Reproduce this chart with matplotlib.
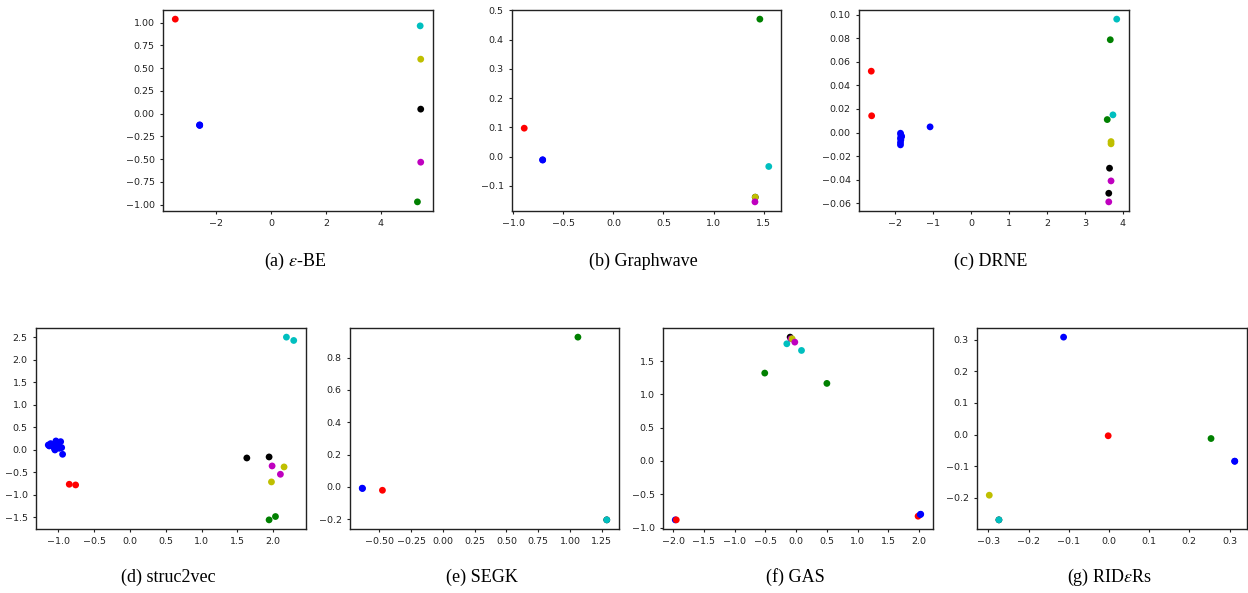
import matplotlib
matplotlib.use("Agg")
import matplotlib.pyplot as plt

plt.rcParams["mathtext.fontset"] = "stix"

# (a) eps-BE
a_x = [-3.50, -2.61, -2.61, -2.61, 5.43, 5.45, 5.45, 5.45, 5.33]
a_y = [1.037, -0.128, -0.125, -0.131, 0.963, 0.597, 0.048, -0.535, -0.971]
a_c = ["r", "b", "b", "b", "c", "y", "k", "m", "g"]

# (b) Graphwave
b_x = [-0.89, -0.706, -0.706, 1.462, 1.551, 1.416, 1.416, 1.413]
b_y = [0.097, -0.011, -0.012, 0.470, -0.034, -0.139, -0.139, -0.155]
b_c = ["r", "b", "b", "g", "c", "k", "y", "m"]

# (c) DRNE
c_x = [-2.63, -2.62, -1.86, -1.85, -1.84, -1.86, -1.85, -1.86, -1.86, -1.83,
       -1.08, 3.84, 3.67, 3.74, 3.59, 3.69, 3.69, 3.65, 3.69, 3.63, 3.63]
c_y = [0.0521, 0.0142, -0.0006, -0.0020, -0.0034, -0.0048, -0.0062, -0.0085,
       -0.0105, -0.0034, 0.0048, 0.0963, 0.0788, 0.0150, 0.0110, -0.0077,
       -0.0096, -0.0303, -0.0411, -0.0516, -0.0589]
c_c = ["r", "r", "b", "b", "b", "b", "b", "b", "b", "b",
       "b", "c", "g", "c", "g", "y", "y", "k", "m", "k", "m"]

# (d) struc2vec
d_x = [-1.14, -1.126, -1.107, -1.084, -1.056, -1.047, -1.033, -1.023, -1.0,
       -0.986, -0.967, -0.953, -0.940, -0.847, -0.758, 1.633, 1.944, 1.986,
       2.102, 2.153, 1.977, 2.186, 2.288, 1.944, 2.033]
d_y = [0.11, 0.089, 0.141, 0.089, 0.037, 0.0, 0.20, 0.126, 0.089, 0.037,
       0.185, 0.052, -0.096, -0.762, -0.777, -0.178, -0.155, -0.355, -0.54,
       -0.377, -0.71, 2.507, 2.433, -1.553, -1.479]
d_c = ["b"] * 13 + ["r", "r", "k", "k", "m", "m", "y", "y", "c", "c", "g", "g"]

# (e) SEGK
e_x = [-0.635, -0.633, -0.476, 1.062, 1.289, 1.289]
e_y = [-0.008, -0.010, -0.021, 0.926, -0.204, -0.204]
e_c = ["b", "b", "r", "g", "k", "c"]

# (f) GAS
f_x = [-1.967, -1.951, 1.984, 2.020, 2.027, -0.098, -0.085, -0.065, -0.022,
       -0.152, 0.087, -0.511, 0.500]
f_y = [-0.885, -0.885, -0.830, -0.805, -0.800, 1.860, 1.835, 1.835, 1.785,
       1.760, 1.660, 1.320, 1.165]
f_c = ["b", "r", "r", "b", "b", "k", "m", "y", "m", "c", "c", "g", "g"]

# (g) RIDeRs
g_x = [-0.113, -0.002, 0.254, 0.313, 0.313, -0.298, -0.274, -0.274]
g_y = [0.308, -0.004, -0.0127, -0.0845, -0.0845, -0.192, -0.270, -0.270]
g_c = ["b", "r", "g", "b", "b", "y", "k", "c"]

captions = [r"(a) $\varepsilon$-BE", "(b) Graphwave", "(c) DRNE",
            "(d) struc2vec", "(e) SEGK", "(f) GAS", r"(g) RID$\varepsilon$Rs"]
panels = [(a_x, a_y, a_c), (b_x, b_y, b_c), (c_x, c_y, c_c),
          (d_x, d_y, d_c), (e_x, e_y, e_c), (f_x, f_y, f_c), (g_x, g_y, g_c)]

W, H = 1248, 593
fig = plt.figure(figsize=(W / 100, H / 100), dpi=100)

# axes boxes in pixels: left, right, top, bottom
boxes = [(163, 433, 10, 211), (512, 781, 10, 211), (859, 1129, 10, 211),
         (36, 306, 328, 529), (350, 619, 328, 529), (663, 933, 328, 529),
         (977, 1247, 328, 529)]
cap_y = [261, 261, 261, 577, 577, 577, 577]

for (xs, ys, cs), (l, r, t, b), cap, cy in zip(panels, boxes, captions, cap_y):
    ax = fig.add_axes([l / W, 1 - b / H, (r - l) / W, (b - t) / H])
    ax.scatter(xs, ys, c=cs, s=24, linewidths=0)
    ax.tick_params(labelsize=6.8, length=2.5, width=0.8, colors="#222222")
    for sp in ax.spines.values():
        sp.set_linewidth(1.0)
        sp.set_color("#222222")
    fig.text((l + r) / 2 / W - 3 / W, 1 - cy / H, cap, ha="center", va="center",
             fontsize=13, family="Liberation Serif")

fig.savefig("out.png", dpi=100)
